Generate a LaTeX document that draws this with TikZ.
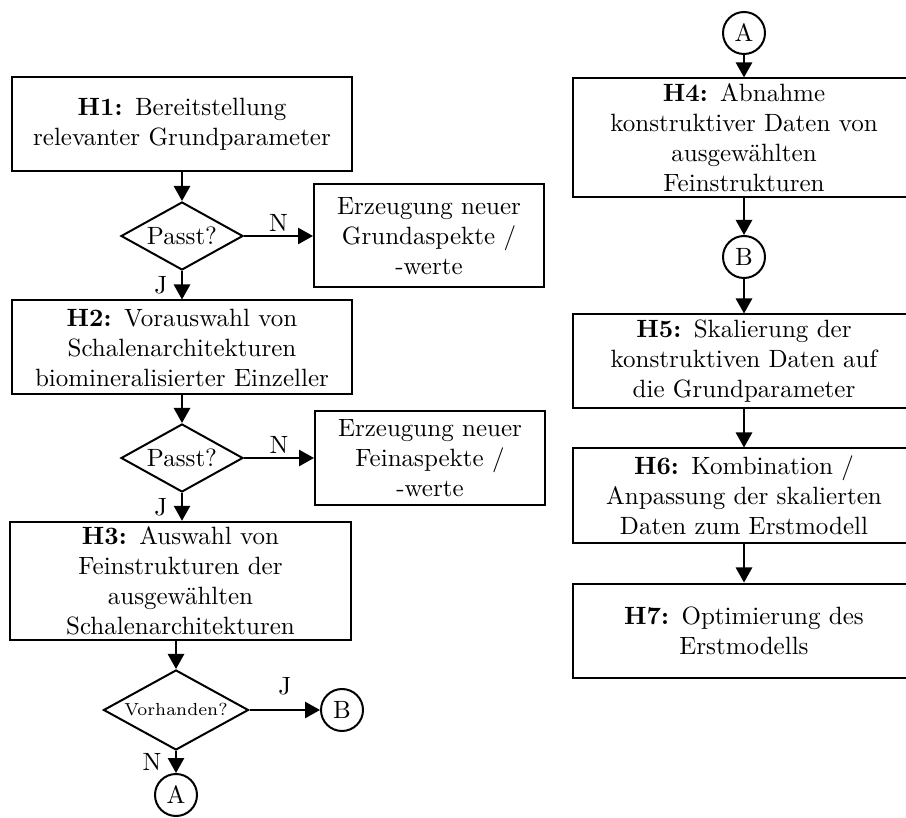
\documentclass[tikz,border=0pt]{standalone}
\usetikzlibrary{shapes.geometric, arrows.meta}

\tikzset{
	block/.style = {draw, rectangle, line width = 0.8pt, text width = 130pt, inner xsep = 3pt, inner ysep = 2pt, minimum height = 37.6pt, align = center},
	sidebox/.style = {block, text width = 86pt},
	decision/.style = {draw, diamond, aspect = 1.8, line width = 0.8pt, inner sep = 0pt, minimum width = 48.8pt, minimum height = 27.2pt},
	jump/.style = {draw, circle, line width = 0.8pt, inner sep = 0pt, minimum size = 16.8pt},
	flow/.style = {line width = 0.8pt, -{Triangle[length = 6pt, width = 6.5pt]}},
	answer/.style = {inner sep = 1.5pt}
}

\begin{document}
\begin{tikzpicture}[x = 0.4pt, y = -0.4pt]
	\useasboundingbox (0, 0) rectangle (906, 818);
	% linke Spalte
	\node[block] (h1) at (182, 124) {\textbf{H1:} Bereitstellung\\relevanter Grundparameter};
	\node[decision] (d1) at (182, 236) {Passt?};
	\node[sidebox, minimum height = 41.2pt] (r1) at (429, 236) {Erzeugung neuer\\Grundaspekte /\\-werte};
	\node[block] (h2) at (182, 347.5) {\textbf{H2:} Vorauswahl von\\Schalenarchitekturen\\biomineralisierter Einzeller};
	\node[decision] (d2) at (182, 458) {Passt?};
	\node[sidebox] (r2) at (430, 458) {Erzeugung neuer\\Feinaspekte /\\-werte};
	\node[block] (h3) at (180.5, 581) {\textbf{H3:} Auswahl von\\Feinstrukturen der\\ausgewählten\\Schalenarchitekturen};
	\node[decision, minimum width = 58pt, minimum height = 32pt] (d3) at (176, 710) {\scriptsize Vorhanden?};
	\node[jump] (b1) at (342, 710) {B};
	\node[jump] (a1) at (176, 795) {A};
	% rechte Spalte
	\node[jump] (a2) at (744, 33) {A};
	\node[block, text width = 130.8pt] (h4) at (744, 137.5) {\textbf{H4:} Abnahme\\konstruktiver Daten von\\ausgewählten\\Feinstrukturen};
	\node[jump] (b2) at (744, 257) {B};
	\node[block, text width = 130.8pt] (h5) at (744, 361.5) {\textbf{H5:} Skalierung der\\konstruktiven Daten auf\\die Grundparameter};
	\node[block, text width = 130.8pt] (h6) at (744, 495.5) {\textbf{H6:} Kombination /\\Anpassung der skalierten\\Daten zum Erstmodell};
	\node[block, text width = 130.8pt] (h7) at (744, 630.5) {\textbf{H7:} Optimierung des\\Erstmodells};
	% Pfeile
	\draw[flow] (h1) -- (d1);
	\draw[flow] (d1) -- node[answer, above] {N} (r1);
	\draw[flow] (d1) -- node[answer, left, xshift = -4pt] {J} (h2);
	\draw[flow] (h2) -- (d2);
	\draw[flow] (d2) -- node[answer, above] {N} (r2);
	\draw[flow] (d2) -- node[answer, left, xshift = -4pt] {J} (h3.north -| d2);
	\draw[flow] (d3 |- h3.south) -- (d3);
	\draw[flow] (d3) -- node[answer, above, yshift = 4pt] {J} (b1);
	\draw[flow] (d3) -- node[answer, left, xshift = -4pt] {N} (a1);
	\draw[flow] (a2) -- (h4);
	\draw[flow] (h4) -- (b2);
	\draw[flow] (b2) -- (h5);
	\draw[flow] (h5) -- (h6);
	\draw[flow] (h6) -- (h7);
\end{tikzpicture}
\end{document}
